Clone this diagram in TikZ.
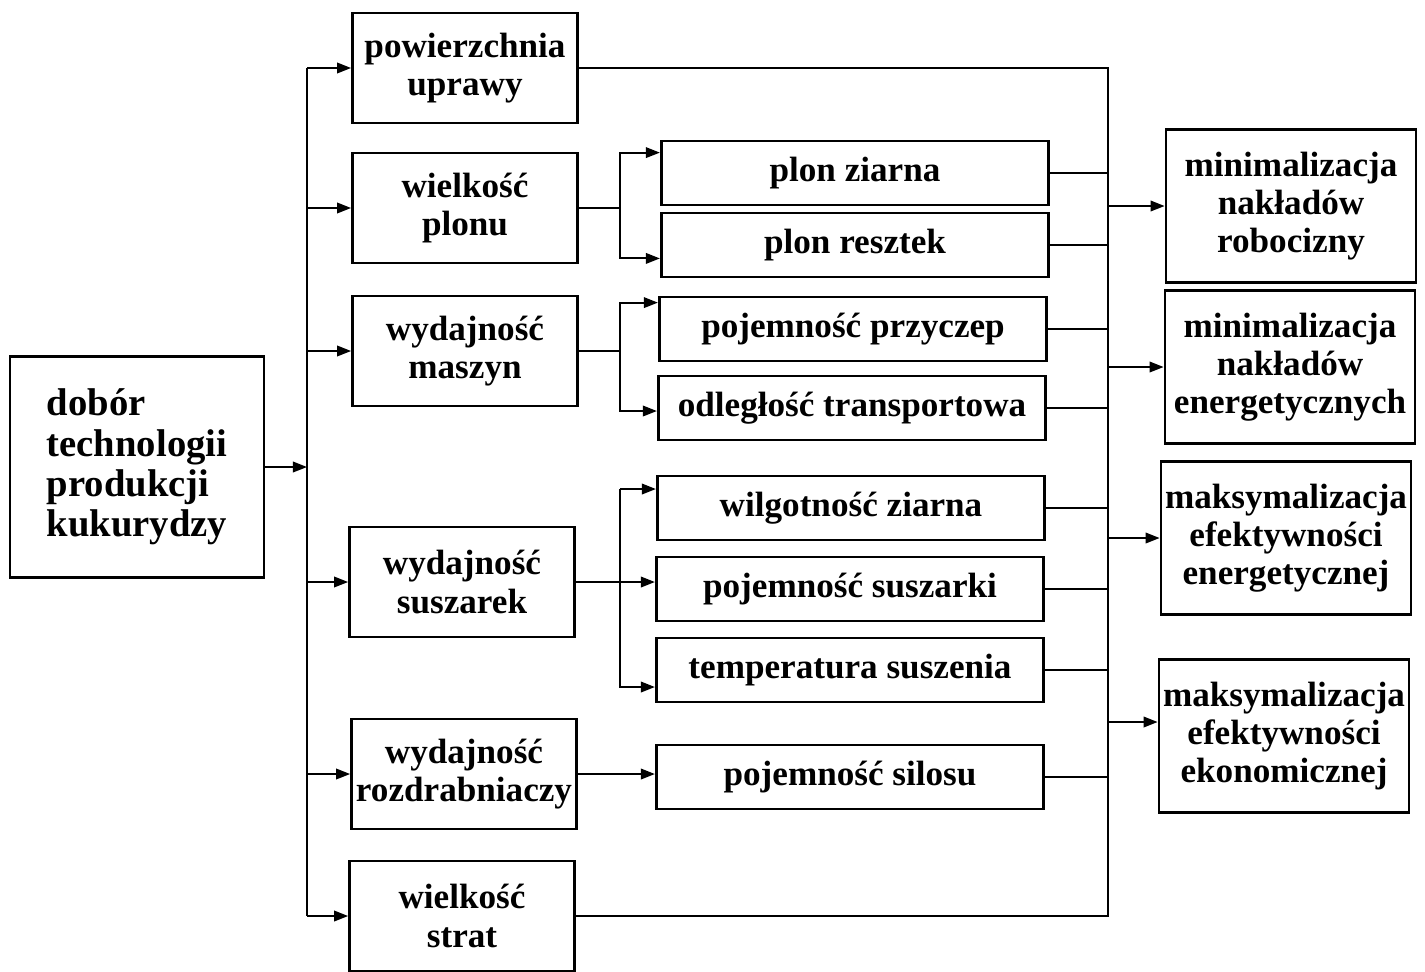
\documentclass[tikz,border=0pt]{standalone}
\usepackage{fontspec}
\setmainfont{Liberation Serif}
\usetikzlibrary{arrows.meta,positioning}
\tikzset{
  sch/.style={>={Triangle[length=8pt,width=6pt]}, x=0.02cm, y=-0.02cm, line width=1.1pt,
              every node/.style={draw, rectangle, line width=1.6pt, inner sep=2pt, align=center,
                                 font=\bfseries\fontsize{20}{22}\selectfont}},
  src/.style={minimum width=5.08cm, minimum height=4.42cm, align=left, font=\bfseries\fontsize{22}{23}\selectfont},
  fac/.style={minimum width=4.5cm, minimum height=2.2cm},
  par/.style={minimum width=7.75cm, minimum height=1.28cm},
  goal/.style={minimum width=5.0cm, minimum height=3.06cm, font=\bfseries\fontsize{20}{21.5}\selectfont}
}

\begin{document}
\begin{tikzpicture}[sch]
\useasboundingbox (0,0) rectangle (1425,971);
\node[src] (dob) at (137,467) {dobór\\technologii\\produkcji\\kukurydzy};
\node[fac] (pow) at (465,68) {powierzchnia\\uprawy};
\node[fac] (wpl) at (465,208) {wielkość\\plonu};
\node[fac] (wma) at (465,351) {wydajność\\maszyn};
\node[fac] (wsu) at (462,582) {wydajność\\suszarek};
\node[fac] (wro) at (464,774) {wydajność\\rozdrabniaczy};
\node[fac] (wst) at (462,916) {wielkość\\strat};
\node[par] (pz) at (855,173) {plon ziarna};
\node[par] (pr) at (855,245) {plon resztek};
\node[par] (pp) at (853,329) {pojemność przyczep};
\node[par] (ot) at (852,408) {odległość transportowa};
\node[par] (wz) at (851,508) {wilgotność ziarna};
\node[par] (ps) at (850,589) {pojemność suszarki};
\node[par] (ts) at (850,670) {temperatura suszenia};
\node[par] (psi) at (850,777) {pojemność silosu};
\node[goal] (mr) at (1291,206) {minimalizacja\\nakładów\\robocizny};
\node[goal] (me) at (1290,367) {minimalizacja\\nakładów\\energetycznych};
\node[goal] (ee) at (1286,538) {maksymalizacja\\efektywności\\energetycznej};
\node[goal] (eek) at (1284,736) {maksymalizacja\\efektywności\\ekonomicznej};
\coordinate (lb) at (307,0);
\coordinate (b1) at (620,0);
\coordinate (rb) at (1108,0);
\draw[->] (dob) -- (dob -| lb);
\draw (lb |- pow) -- (lb |- wst);
\foreach \n in {pow,wpl,wma,wsu,wro,wst} \draw[->] (lb |- \n) -- (\n);
\draw (wpl) -- (b1 |- wpl);
\draw[->] (b1 |- wpl) |- ([yshift=-0.26cm]pz.north west);
\draw[->] (b1 |- wpl) |- ([yshift=0.4cm]pr.south west);
\draw (wma) -- (b1 |- wma);
\draw[->] (b1 |- wma) |- ([yshift=-0.14cm]pp.north west);
\draw[->] (b1 |- wma) |- ([yshift=-0.06cm]ot.west);
\draw[->] (wsu) -- (wsu -| ps.west);
\draw[->] (b1 |- wz) ++(0,-19) coordinate (s1) -- ([yshift=0.38cm]wz.west);
\draw[->] (s1) |- ([yshift=-0.34cm]ts.west);
\draw[->] (wro) -- (wro -| psi.west);
\draw (pow) -- (rb |- pow) -- (rb |- wst) -- (wst);
\foreach \n in {pz,pr,pp,ot,wz,ps,ts,psi} \draw (\n) -- (rb |- \n);
\foreach \n in {mr,me,ee} \draw[->] (rb |- \n) -- (\n);
\draw[->] (rb |- eek) ++(0,-14) -- ([yshift=0.28cm]eek.west);
\end{tikzpicture}
\end{document}
